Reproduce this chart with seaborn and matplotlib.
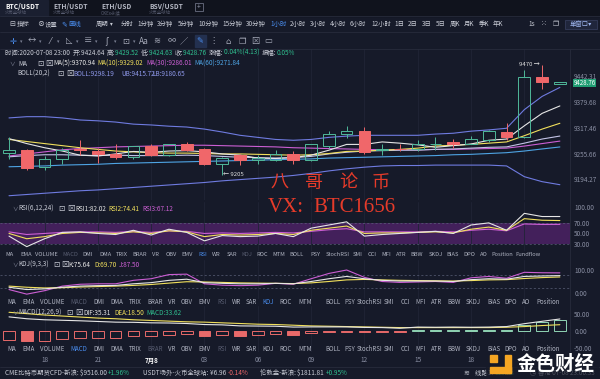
import numpy as np
import matplotlib
matplotlib.use("Agg")
import matplotlib.pyplot as plt
import matplotlib.transforms as mtransforms
import seaborn as sns
from matplotlib.patches import Rectangle
from matplotlib.lines import Line2D

# ---------------- 数据: BTC/USDT 1小时K线 (07-07 16:00 ~ 07-08 23:00) ----------------
hours = ['16', '17', '18', '19', '20', '21', '22', '23',
         '00', '01', '02', '03', '04', '05', '06', '07', '08', '09', '10', '11', '12', '13',
         '14', '15', '16', '17', '18', '19', '20', '21', '22', '23']

opens = [9258, 9265, 9223, 9243, 9268, 9263, 9256, 9248, 9273, 9253, 9278, 9268, 9231, 9253, 9240, 9241,
         9256, 9241, 9275, 9303, 9310, 9265, 9268, 9266, 9278, 9283, 9280, 9288, 9307, 9295, 9442, 9424.64]
highs = [9297, 9268, 9251, 9270, 9288, 9270, 9280, 9275, 9280, 9280, 9283, 9270, 9248, 9255, 9253, 9265,
         9263, 9280, 9310, 9322, 9320, 9280, 9280, 9288, 9295, 9290, 9298, 9312, 9330, 9458, 9470, 9429.52]
lows = [9243, 9217, 9216, 9231, 9253, 9233, 9243, 9243, 9251, 9250, 9263, 9228, 9205, 9228, 9231, 9238,
        9231, 9238, 9270, 9293, 9256, 9253, 9263, 9263, 9265, 9270, 9278, 9285, 9288, 9293, 9412, 9424.63]
closes = [9265, 9221, 9243, 9265, 9265, 9256, 9248, 9273, 9253, 9278, 9265, 9231, 9246, 9241, 9244, 9256,
          9241, 9278, 9303, 9310, 9260, 9268, 9266, 9280, 9280, 9280, 9290, 9310, 9295, 9442, 9428, 9428.76]

ma5 = [9292, 9280, 9270, 9262, 9252, 9250, 9255, 9261, 9259, 9262, 9263, 9260, 9255, 9252, 9245, 9244,
       9246, 9252, 9264, 9278, 9278, 9284, 9281, 9277, 9271, 9275, 9279, 9288, 9291, 9323, 9353, 9370.94]
ma10 = [9290, 9285, 9280, 9275, 9270, 9266, 9262, 9260, 9258, 9257, 9257, 9256, 9255, 9255, 9254, 9253,
        9252, 9253, 9256, 9261, 9262, 9264, 9266, 9269, 9274, 9276, 9278, 9281, 9284, 9299, 9315, 9329.02]
ma30 = [9250, 9255, 9260, 9265, 9268, 9270, 9272, 9273, 9274, 9275, 9276, 9276, 9275, 9274, 9273, 9272,
        9270, 9269, 9268, 9267, 9266, 9265, 9265, 9265, 9266, 9266, 9267, 9268, 9269, 9274, 9280, 9286.01]
ma60 = [9224, 9225, 9226, 9228, 9229, 9230, 9232, 9233, 9234, 9235, 9236, 9237, 9238, 9239, 9240, 9241,
        9242, 9243, 9245, 9246, 9247, 9248, 9249, 9250, 9251, 9253, 9254, 9256, 9258, 9262, 9267, 9271.84]
boll_mid = [9248, 9251, 9253, 9253, 9252, 9251, 9252, 9251, 9251, 9251, 9252, 9251, 9249, 9247, 9246, 9245,
            9246, 9249, 9255, 9259, 9262, 9263, 9264, 9264, 9266, 9267, 9269, 9271, 9272, 9281, 9291, 9298.19]
boll_ub = [9342, 9345, 9345, 9342, 9337, 9335, 9332, 9327, 9325, 9322, 9320, 9315, 9308, 9300, 9295, 9290,
           9288, 9290, 9295, 9298, 9300, 9300, 9300, 9300, 9303, 9305, 9310, 9313, 9317, 9362, 9394, 9415.72]
boll_lb = [9154, 9157, 9160, 9163, 9166, 9168, 9171, 9174, 9177, 9180, 9183, 9186, 9190, 9193, 9196, 9199,
           9203, 9208, 9214, 9219, 9223, 9226, 9227, 9227, 9228, 9228, 9228, 9228, 9226, 9200, 9188, 9180.65]

rsi1 = [45, 25, 40, 52, 53, 50, 48, 56, 47, 58, 52, 36, 46, 44, 45, 50,
        44, 60, 66, 72, 45, 48, 50, 52, 54, 50, 66, 70, 56, 88, 82, 82.02]
rsi2 = [50, 40, 44, 50, 52, 51, 50, 53, 50, 55, 53, 44, 48, 47, 48, 50,
        48, 56, 60, 64, 50, 51, 51, 52, 53, 51, 58, 62, 56, 78, 75, 74.41]
rsi3 = [53, 48, 50, 52, 53, 53, 52, 54, 52, 55, 54, 50, 51, 50, 51, 52,
        51, 54, 57, 59, 53, 53, 53, 53, 54, 53, 56, 58, 55, 68, 67, 67.12]

kdj_k = [25, 15, 18, 25, 30, 32, 33, 40, 45, 55, 60, 45, 42, 40, 40, 42,
         40, 50, 62, 72, 62, 55, 52, 52, 52, 50, 58, 62, 60, 72, 74, 75.64]
kdj_d = [30, 25, 22, 23, 26, 28, 30, 33, 37, 43, 49, 48, 46, 44, 43, 42,
         41, 44, 50, 57, 59, 57, 55, 54, 53, 52, 54, 57, 58, 63, 67, 69.70]
kdj_j = [15, -5, 10, 30, 38, 40, 40, 55, 62, 80, 82, 40, 34, 32, 34, 42,
         38, 62, 85, 100, 68, 50, 46, 48, 50, 46, 66, 72, 64, 90, 88, 87.50]

macd_hist = [-27, -30, -28, -25, -22, -20, -20, -15, -14, -11, -10, -14, -12, -14, -11, -10,
             -11, -6, -4, -2, -3, -2, -4, 3, 2, 3, 2, 3, 4, 17, 25, 33.62]
dea = [55, 51, 47, 44, 41, 38, 36, 33, 31, 29, 27, 26, 24, 22, 20, 19,
       17, 15, 14, 13, 12, 11, 10, 10, 10, 10, 10, 10, 11, 13, 16, 18.50]
dif = [41.5, 36, 33, 31.5, 30, 28, 26, 25.5, 24, 23.5, 22, 19, 18, 15, 14.5, 14,
       11.5, 12, 12, 12, 10.5, 10, 8, 11.5, 11, 11.5, 11, 11.5, 13, 21.5, 28.5, 35.31]

price_ticks = [9194.27, 9255.66, 9317.46, 9379.68, 9442.31]
rsi_ticks = [30, 50, 70, 100]
kdj_ticks = [0, 100]
macd_ticks = [-50, 0, 50]

tabs = ['BTC/USDT', 'ETH/USDT', 'ETH/USD', 'BSV/USDT']
tab_subs = ['火币全球站', '火币全球站', 'OKEx永续', '火币全球站']
periods = ['分时', '1分钟', '3分钟', '5分钟', '10分钟', '15分钟', '30分钟', '1小时', '2小时', '3小时',
           '4小时', '6小时', '12小时', '1日', '2日', '3日', '5日', '周K', '月K', '季K', '年K']
indicators = ['MA', 'EMA', 'VOLUME', 'MACD', 'DMI', 'DMA', 'TRIX', 'BRAR', 'VR', 'OBV', 'EMV', 'RSI',
              'WR', 'SAR', 'KDJ', 'ROC', 'MTM', 'BOLL', 'PSY', 'StochRSI', 'SMI', 'CCI', 'MFI', 'ATR',
              'BBW', 'SKDJ', 'BIAS', 'DPO', 'AO', 'Position', 'Fundflow']

# ---------------- 样式 ----------------
W, H = 600, 379
STEP, X0, XR = 17.77, 9, 570
BG, TOP, SEP, GRID = '#161a29', '#10131d', '#272b3c', '#202436'
TXT, DIM, AX_TXT = '#c9ccd6', '#575c70', '#8a8fa3'
BLUE, GREEN, RED = '#4a8ef0', '#2fbf8f', '#f0676a'
UP, DOWN = '#4fb89a', '#f0676a'
WHITE, YELLOW, MAG, CYAN = '#e6e6e6', '#f1e05c', '#cc5fd4', '#4ea4e4'
BOLL_C, BOLLM_C = '#6f7be0', '#c3c3e6'
PURPLE = '#43205b'
WM_RED = '#e63b2a'
FS = 4.6

sns.set_theme(style='dark', rc={'axes.facecolor': BG, 'figure.facecolor': BG, 'axes.edgecolor': BG})
plt.rcParams['font.family'] = ['Noto Sans CJK SC', 'DejaVu Sans']
plt.rcParams['axes.unicode_minus'] = False

fig = plt.figure(figsize=(W / 100, H / 100), dpi=100)
idx = np.arange(len(closes))
tick_idx = [i for i, h in enumerate(hours) if int(h) % 3 == 0]
tick_lab = ['7月8' if hours[i] == '00' else hours[i] for i in tick_idx]


def rect(x0, y0, x1, y1):
    return [x0 / W, 1 - y1 / H, (x1 - x0) / W, (y1 - y0) / H]


def frect(x0, y0, x1, y1, color, z=0, **kw):
    fig.patches.append(Rectangle((x0 / W, 1 - y1 / H), (x1 - x0) / W, (y1 - y0) / H,
                                 transform=fig.transFigure, color=color, zorder=z, **kw))


def hline(y, x0=0, x1=W, c=SEP, lw=0.6):
    fig.add_artist(Line2D([x0 / W, x1 / W], [1 - y / H] * 2, color=c, lw=lw))


def txt(x, y, s, c=TXT, fs=FS, ha='left', **kw):
    return fig.text(x / W, 1 - y / H, s, color=c, fontsize=fs, ha=ha, va='center', **kw)


def runs(x, y, parts, fs=FS):
    r = fig.canvas.get_renderer()
    for s, c in parts:
        t = txt(x, y, s, c=c, fs=fs)
        x += t.get_window_extent(renderer=r).width
    return x


def panel(y0, y1, ylim, ticks, fmt):
    ax = fig.add_axes(rect(0, y0, XR, y1))
    ax.set_facecolor(BG)
    ax.set_xlim(-X0 / STEP, (XR - X0) / STEP)
    ax.set_ylim(*ylim)
    ax.set_xticks(tick_idx)
    ax.set_xticklabels([])
    ax.yaxis.tick_right()
    ax.set_yticks(ticks)
    ax.set_yticklabels([fmt % t for t in ticks])
    ax.tick_params(axis='both', length=0, colors=AX_TXT, labelsize=FS, pad=3)
    ax.grid(True, axis='x', color=GRID, lw=0.6)
    ax.grid(False, axis='y')
    for s in ax.spines.values():
        s.set_visible(False)
    return ax


# ---------------- 顶部工具栏 ----------------
frect(0, 0, W, 16, TOP)
frect(0, 0, 48, 16, '#1a1f30')
for i, (t, s) in enumerate(zip(tabs, tab_subs)):
    x = 5 + 48 * i
    txt(x, 6, t, c='white' if i == 0 else '#b5b8c4', fs=4.8, weight='bold')
    txt(x, 12.5, s, c=DIM, fs=3.2)
frect(195, 3, 203, 11, 'none', ec='#6a6f82', lw=0.6)
txt(199, 7, '+', c='#9a9fb2', fs=5, ha='center')
hline(16)

txt(9, 24, '⊟', c=TXT, fs=5)
txt(17, 24, '指标')
txt(37, 24, '⊗', c=TXT, fs=5)
txt(45, 24, '设置')
txt(61, 24, '✎', c=BLUE, fs=5)
txt(68, 24, '画线', c=BLUE)
txt(96, 24, '周期')
txt(110, 24, '▾', c=TXT, fs=4)
period_x = [121, 137, 157, 178, 198, 222, 246, 270, 290, 310, 330, 350, 371, 394, 408, 422, 436,
            450, 464, 479, 493]
for p, x in zip(periods, period_x):
    txt(x, 24, p, c=BLUE if p == '1小时' else TXT)
txt(528, 24, '1s')
txt(541, 24, '⁙', c=TXT, fs=5)
txt(553, 24, '❐', c=TXT, fs=5)
frect(565, 19.5, 597, 29, '#20263c', ec='#3a4262', lw=0.5)
txt(581, 24.3, '单窗口▾', c='#9fb6f0', ha='center')
hline(32)

icons = ['✛', '↔', '⁄', '◺', '≡', 'ʃ', '⊡', 'Aa', '≋', '∞', '∕', '✎', '⋮', '⌂', '❐', '⊠', '▭']
icon_x = [13, 32, 50, 69, 88, 107, 126, 144, 157, 172, 184, 200, 213, 228, 242, 255, 268]
frect(195, 35, 206, 47, '#23304f')
for k, (s, x) in enumerate(zip(icons, icon_x)):
    txt(x, 41, s, c=BLUE if k in (0, 11) else '#a7abba', fs=6, ha='center')
    if k < 7:
        txt(x + 7, 41.5, '▾', c='#7d8296', fs=3.5)
hline(49)

# ---------------- K线主图 ----------------
ax_p = panel(49, 200, (9143.7, 9508.5), price_ticks, '%.2f')
for line, col in [(boll_ub, BOLL_C), (boll_lb, BOLL_C), (ma60, CYAN), (ma30, MAG),
                  (boll_mid, BOLLM_C), (ma10, YELLOW), (ma5, WHITE)]:
    sns.lineplot(x=idx, y=line, ax=ax_p, color=col, lw=0.8, legend=False, zorder=2)

o, h, l, c = map(np.asarray, (opens, highs, lows, closes))
up = c >= o
lo, hi = np.minimum(o, c), np.maximum(o, c)
col = np.where(up, UP, DOWN)
ax_p.vlines(idx, l, lo, colors=col, lw=0.7, zorder=3)
ax_p.vlines(idx, hi, h, colors=col, lw=0.7, zorder=3)
ax_p.bar(idx, np.maximum(hi - lo, 1.2), bottom=lo, width=0.66,
         color=['none' if u else DOWN for u in up], edgecolor=col, lw=0.7, zorder=3)

imax, imin = int(np.argmax(h)), int(np.argmin(l))
ax_p.text(imax - 0.15, h[imax], f'{h[imax]:.0f} →', ha='right', va='center', color='#e0e0e0', fontsize=4.3)
ax_p.text(imin + 0.05, l[imin], f'← {l[imin]:.0f}', ha='left', va='center', color='#e0e0e0', fontsize=4.3)
blend = mtransforms.blended_transform_factory(ax_p.transAxes, ax_p.transData)
ax_p.text(1.006, c[-1] - 2, f'{c[-1]:.2f}', transform=blend, ha='left', va='center', color='white',
          fontsize=4.4, zorder=10, bbox=dict(boxstyle='square,pad=0.05', fc='#1f9d72', ec='none'))
ax_p.set_xlim(-X0 / STEP, (XR - X0) / STEP)
ax_p.set_ylim(9143.7, 9508.5)

runs(5, 53, [('时间:2020-07-08 23:00  ', TXT),
             ('开:', TXT), (f'{o[-1]:.2f}  ', TXT),
             ('高:', TXT), (f'{h[-1]:.2f}  ', GREEN),
             ('低:', TXT), (f'{l[-1]:.2f}  ', GREEN),
             ('收:', TXT), (f'{c[-1]:.2f}  ', GREEN),
             ('涨幅:', TXT), ('0.04%(4.13)  ', GREEN),
             ('振幅:', TXT), ('0.05%', GREEN)])

txt(9, 64, '∨', c=AX_TXT, fs=4)
txt(18, 64, 'MA')
txt(37, 64, '⊡', c=TXT, fs=5.5)
txt(45, 64, '⊠', c=TXT, fs=5.5)
for s, v, x, cc in [('MA(5):', ma5, 53, WHITE), ('MA(10):', ma10, 97, YELLOW),
                    ('MA(30):', ma30, 146, MAG), ('MA(60):', ma60, 194, CYAN)]:
    txt(x, 64, f'{s}{v[-1]:.2f}', c=cc)
txt(17, 74, 'BOLL(20,2)')
txt(57, 74, '⊡', c=TXT, fs=5.5)
txt(66, 74, '⊠', c=TXT, fs=5.5)
for s, v, x in [('BOLL:', boll_mid, 73), ('UB:', boll_ub, 121), ('LB:', boll_lb, 152)]:
    txt(x, 74, f'{s}{v[-1]:.2f}', c='#8e98ea')

# ---------------- RSI ----------------
ax_r = panel(202, 251, (16.8, 109.5), rsi_ticks, '%.2f')
ax_r.axhspan(30, 70, color=PURPLE, lw=0, zorder=0)
for v in (30, 70):
    ax_r.axhline(v, color='#5a5f78', lw=0.5, ls=(0, (3, 3)), zorder=1)
for line, cc in [(rsi3, MAG), (rsi2, YELLOW), (rsi1, WHITE)]:
    sns.lineplot(x=idx, y=line, ax=ax_r, color=cc, lw=0.8, legend=False, zorder=2)
ax_r.set_xlim(-X0 / STEP, (XR - X0) / STEP)
ax_r.set_ylim(16.8, 109.5)
txt(12, 209, '∨', c=AX_TXT, fs=4)
txt(18, 209, 'RSI(6,12,24)')
txt(58, 209, '⊡', c=TXT, fs=5.5)
txt(67, 209, '⊠', c=TXT, fs=5.5)
for s, v, x, cc in [('RSI1:', rsi1, 75, WHITE), ('RSI2:', rsi2, 108, YELLOW), ('RSI3:', rsi3, 142, MAG)]:
    txt(x, 209, f'{s}{v[-1]:.2f}', c=cc)

# ---------------- KDJ ----------------
ax_k = panel(260, 299, (-26.1, 143.5), kdj_ticks, '%.2f')
for v in (20, 80):
    ax_k.axhline(v, color='#5a5f78', lw=0.5, ls=(0, (3, 3)), zorder=1)
for line, cc in [(kdj_j, MAG), (kdj_d, YELLOW), (kdj_k, WHITE)]:
    sns.lineplot(x=idx, y=line, ax=ax_k, color=cc, lw=0.8, legend=False, zorder=2)
ax_k.set_xlim(-X0 / STEP, (XR - X0) / STEP)
ax_k.set_ylim(-26.1, 143.5)
txt(12, 265, '∨', c=AX_TXT, fs=4)
txt(18, 265, 'KDJ(9,3,3)')
txt(53, 265, '⊡', c=TXT, fs=5.5)
txt(61, 265, '⊠', c=TXT, fs=5.5)
for s, v, x, cc in [('K:', kdj_k, 68, WHITE), ('D:', kdj_d, 94, YELLOW), ('J:', kdj_j, 119, MAG)]:
    txt(x, 265, f'{s}{v[-1]:.2f}', c=cc)

# ---------------- MACD ----------------
ax_m = panel(306, 352, (-61.8, 73.5), macd_ticks, '%.2f')
hist = np.asarray(macd_hist)
rising = np.r_[True, np.diff(hist) >= 0]
mcol = np.where(hist >= 0, '#8fd4b4', '#e86a6a')
ax_m.bar(idx, hist, width=0.66, color=['none' if r else cc for r, cc in zip(rising, mcol)],
         edgecolor=mcol, lw=0.7, zorder=2)
sns.lineplot(x=idx, y=dea, ax=ax_m, color=YELLOW, lw=0.8, legend=False, zorder=3)
sns.lineplot(x=idx, y=dif, ax=ax_m, color=WHITE, lw=0.8, legend=False, zorder=3)
ax_m.set_xlim(-X0 / STEP, (XR - X0) / STEP)
ax_m.set_ylim(-61.8, 73.5)
txt(12, 313, '∨', c=AX_TXT, fs=4)
txt(18, 313, 'MACD(12,26,9)')
txt(66, 313, '⊡', c=TXT, fs=5.5)
txt(75, 313, '⊠', c=TXT, fs=5.5)
for s, v, x, cc in [('DIF:', dif, 83, WHITE), ('DEA:', dea, 114, YELLOW), ('MACD:', macd_hist, 146, GREEN)]:
    txt(x, 313, f'{s}{v[-1]:.2f}', c=cc)

fig.add_artist(Line2D([XR / W] * 2, [1 - 49 / H, 1 - 352 / H], color=SEP, lw=0.6))

# ---------------- 指标切换栏 ----------------
row1_x = [10, 26, 46.5, 70.5, 88, 105, 122, 140, 155.5, 171, 187.5, 202.5, 216, 231.5, 247, 262.5,
          279, 297, 315, 337.5, 358, 372, 386, 401, 416.5, 435.5, 453, 469, 484, 502.5, 527.5]
row2_x = [12, 29, 52.5, 78.5, 99, 116.5, 135.5, 155, 172, 187, 204.5, 221.5, 236.5, 251.5, 268.5, 285.5,
          305, 332.5, 349.5, 370, 389, 405, 420.5, 437, 454.5, 473, 493.5, 511, 526, 548]
rows = [(255, row1_x, 'RSI', ('MACD', 'KDJ'), 4.1),
        (302, row2_x, 'KDJ', ('MACD', 'RSI'), 4.4),
        (349, row2_x, 'MACD', ('BRAR', 'RSI'), 4.4)]
for y, xs, sel, dim, fs in rows:
    for name, x in zip(indicators, xs):
        cc = BLUE if name == sel else (DIM if name in dim else '#b0b4c2')
        txt(x, y, name, c=cc, fs=fs, ha='center')

# ---------------- 时间轴 ----------------
ax_x = fig.add_axes(rect(0, 354, XR, 366))
ax_x.set_xlim(-X0 / STEP, (XR - X0) / STEP)
ax_x.axis('off')
for i, lab in zip(tick_idx, tick_lab):
    if X0 + i * STEP > 486:  # 被右下角logo遮住
        continue
    ax_x.text(i, 0.5, lab, ha='center', va='center', fontsize=FS,
              color='white' if lab == '7月8' else AX_TXT, weight='bold' if lab == '7月8' else 'normal')

# ---------------- 底部行情 ----------------
hline(367)
runs(5, 373, [('CME比特币期货CFD-新浪: ', TXT), ('$9516.00 ', TXT), ('+1.96%', GREEN)])
runs(143, 373, [('USDT场外-火币全球站: ', TXT), ('¥6.96 ', TXT), ('-0.14%', RED)])
runs(260, 373, [('伦敦金-新浪: ', TXT), ('$1811.81 ', TXT), ('+0.95%', GREEN)])
txt(463, 373, '≋', c=TXT, fs=5)
runs(475, 373, [('线路1: ', TXT), ('113ms', GREEN)])
txt(530, 373, '◷', c=TXT, fs=5)
txt(538, 373, '香港 07-08 23:00:33')

# ---------------- 水印 ----------------
for ch, x in zip('八哥论币', [279, 314, 348, 381]):
    txt(x, 183, ch, c=WM_RED, fs=13, ha='center', zorder=6)
serif = ['Liberation Serif', 'DejaVu Serif']
fig.text(268 / W, 1 - 208 / H, 'VX:', color=WM_RED, fontsize=15, ha='left', va='center',
         family=serif, zorder=6)
fig.text(313 / W, 1 - 208 / H, 'BTC1656', color=WM_RED, fontsize=15, ha='left', va='center',
         family=serif, zorder=6)

frect(486, 352, 598, 376, BG, z=5, alpha=0.7)
frect(490, 355, 497, 362, '#f5a623', z=6)
frect(505, 355, 511, 373, '#f5a623', z=6)
frect(490, 367, 511, 373, '#f5a623', z=6)
txt(517, 364, '金色财经', c='white', fs=14, weight='bold', zorder=7)

fig.savefig('out.png', dpi=100, facecolor=BG)
